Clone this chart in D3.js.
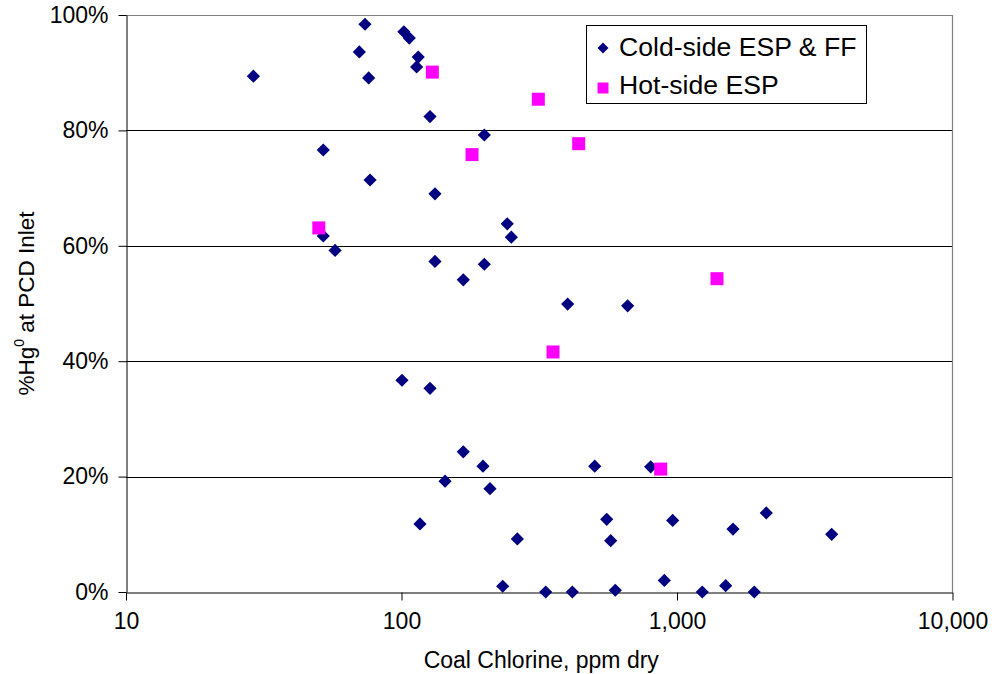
<!DOCTYPE html>
<html>
<head>
<meta charset="utf-8">
<script src="https://cdn.jsdelivr.net/npm/d3@7"></script>
<style>
  html, body { margin: 0; padding: 0; background: #fff; }
  svg { display: block; font-family: "Liberation Sans", Arial, sans-serif; }
</style>
</head>
<body>
<svg id="chart" width="992" height="674"></svg>
<script>
// ---- Data ----
const coldChlorine = [29.0, 73.7, 70.3, 76.0, 102, 106.7, 115, 113.5, 126.9, 52.0,
  76.9, 132.3, 52.0, 57.4, 132.3, 199.8, 242, 250.4, 199.8, 167.6,
  401, 662, 100.4, 126.9, 143.9, 116.7, 167.6, 197.6, 209.5, 263.3,
  502.8, 802.6, 555.7, 574.5, 964.6, 1597, 2109, 233, 333.8, 416.9,
  597, 899.5, 1235, 1502, 1908, 3643];
const coldHg0 = [0.894, 0.984, 0.936, 0.891, 0.971, 0.960, 0.927, 0.910, 0.824, 0.766,
  0.714, 0.690, 0.617, 0.592, 0.573, 0.792, 0.638, 0.615, 0.568, 0.541,
  0.499, 0.496, 0.367, 0.353, 0.192, 0.118, 0.243, 0.218, 0.179, 0.092,
  0.218, 0.217, 0.126, 0.089, 0.124, 0.109, 0.137, 0.010, 0.000, 0.000,
  0.003, 0.020, 0.000, 0.011, 0.000, 0.100];
const hotChlorine = [129.4, 50.1, 313.8, 439.7, 180.3, 1397, 354.8, 872.6];
const hotHg0 = [0.901, 0.631, 0.854, 0.777, 0.758, 0.543, 0.416, 0.213];

const xTicks = [10, 100, 1000, 10000];
const yTicks = [0, 0.2, 0.4, 0.6, 0.8, 1.0];
const seriesNames = ["Cold-side ESP & FF", "Hot-side ESP"];
const seriesColors = ["#000080", "#FF00FF"];
const xTitle = "Coal Chlorine, ppm dry";

// ---- Layout ----
const svg = d3.select("#chart");
const pLeft = 126, pRight = 952.5, pTop = 15, pBottom = 592;

const x = d3.scaleLog().domain([10, 10000]).range([pLeft, pRight]);
const y = d3.scaleLinear().domain([0, 1]).range([pBottom, pTop]);

// gridlines (black), skipping 0 and 100%
svg.append("g").selectAll("line")
  .data(yTicks.filter(d => d > 0 && d < 1))
  .join("line")
  .attr("x1", pLeft).attr("x2", pRight)
  .attr("y1", d => Math.round(y(d)) + 0.5).attr("y2", d => Math.round(y(d)) + 0.5)
  .attr("stroke", "#000").attr("stroke-width", 1);

// plot area border top/right (gray)
svg.append("path")
  .attr("d", `M${pLeft},${pTop + 0.5}H${pRight}V${pBottom}`)
  .attr("fill", "none").attr("stroke", "#808080").attr("stroke-width", 1.2);

const fmtX = d3.format(",");
const fmtY = d3.format(".0%");

// x axis
const xAxis = d3.axisBottom(x).tickValues(xTicks).tickFormat(fmtX).tickSize(8).tickSizeOuter(0).tickPadding(12);
const gx = svg.append("g").attr("transform", `translate(0,${Math.round(pBottom) + 0.5})`).call(xAxis);
gx.select(".domain").attr("stroke", "#000");
gx.selectAll(".tick line").attr("stroke", "#000");
gx.selectAll(".tick text").attr("font-size", 23).attr("fill", "#000")
  .attr("font-family", "Liberation Sans, Arial, sans-serif");

// y axis
const yAxis = d3.axisLeft(y).tickValues(yTicks).tickFormat(fmtY).tickSize(8).tickSizeOuter(0).tickPadding(10);
const gy = svg.append("g").attr("transform", `translate(${pLeft + 0.5},0)`).call(yAxis);
gy.select(".domain").attr("stroke", "#000");
gy.selectAll(".tick line").attr("stroke", "#000");
gy.selectAll(".tick text").attr("font-size", 23).attr("fill", "#000")
  .attr("font-family", "Liberation Sans, Arial, sans-serif");

// axis titles
svg.append("text")
  .attr("x", (pLeft + pRight) / 2 + 2).attr("y", 668)
  .attr("text-anchor", "middle").attr("font-size", 23).attr("fill", "#000")
  .text(xTitle);

const yt = svg.append("text")
  .attr("transform", `translate(34,${(pTop + pBottom) / 2}) rotate(-90)`)
  .attr("text-anchor", "middle").attr("font-size", 22.5).attr("fill", "#000");
yt.append("tspan").text("%Hg");
yt.append("tspan").attr("font-size", 14).attr("dy", -10).text("0");
yt.append("tspan").attr("dy", 10).text(" at PCD Inlet");

// markers
const diamond = (s) => `M0,${-s}L${s},0L0,${s}L${-s},0Z`;
const cold = coldChlorine.map((c, i) => ({ c, v: coldHg0[i] }));
const hot = hotChlorine.map((c, i) => ({ c, v: hotHg0[i] }));

svg.append("g").selectAll("path")
  .data(cold).join("path")
  .attr("d", diamond(6.6))
  .attr("transform", d => `translate(${x(d.c)},${y(d.v)})`)
  .attr("fill", seriesColors[0]);

svg.append("g").selectAll("rect")
  .data(hot).join("rect")
  .attr("x", d => x(d.c) - 6.5).attr("y", d => y(d.v) - 6.5)
  .attr("width", 13).attr("height", 13)
  .attr("fill", seriesColors[1]);

// legend
const lg = svg.append("g");
lg.append("rect").attr("x", 586.5).attr("y", 25.5).attr("width", 280).attr("height", 78)
  .attr("fill", "#fff").attr("stroke", "#000").attr("stroke-width", 1);
lg.append("path").attr("d", diamond(5.5)).attr("transform", "translate(603,48)").attr("fill", seriesColors[0]);
lg.append("rect").attr("x", 597.5).attr("y", 82.5).attr("width", 11).attr("height", 11).attr("fill", seriesColors[1]);
lg.append("text").attr("x", 619).attr("y", 56).attr("font-size", 26.6).attr("fill", "#000").text(seriesNames[0]);
lg.append("text").attr("x", 619).attr("y", 94).attr("font-size", 26.6).attr("fill", "#000").text(seriesNames[1]);
</script>
</body>
</html>
